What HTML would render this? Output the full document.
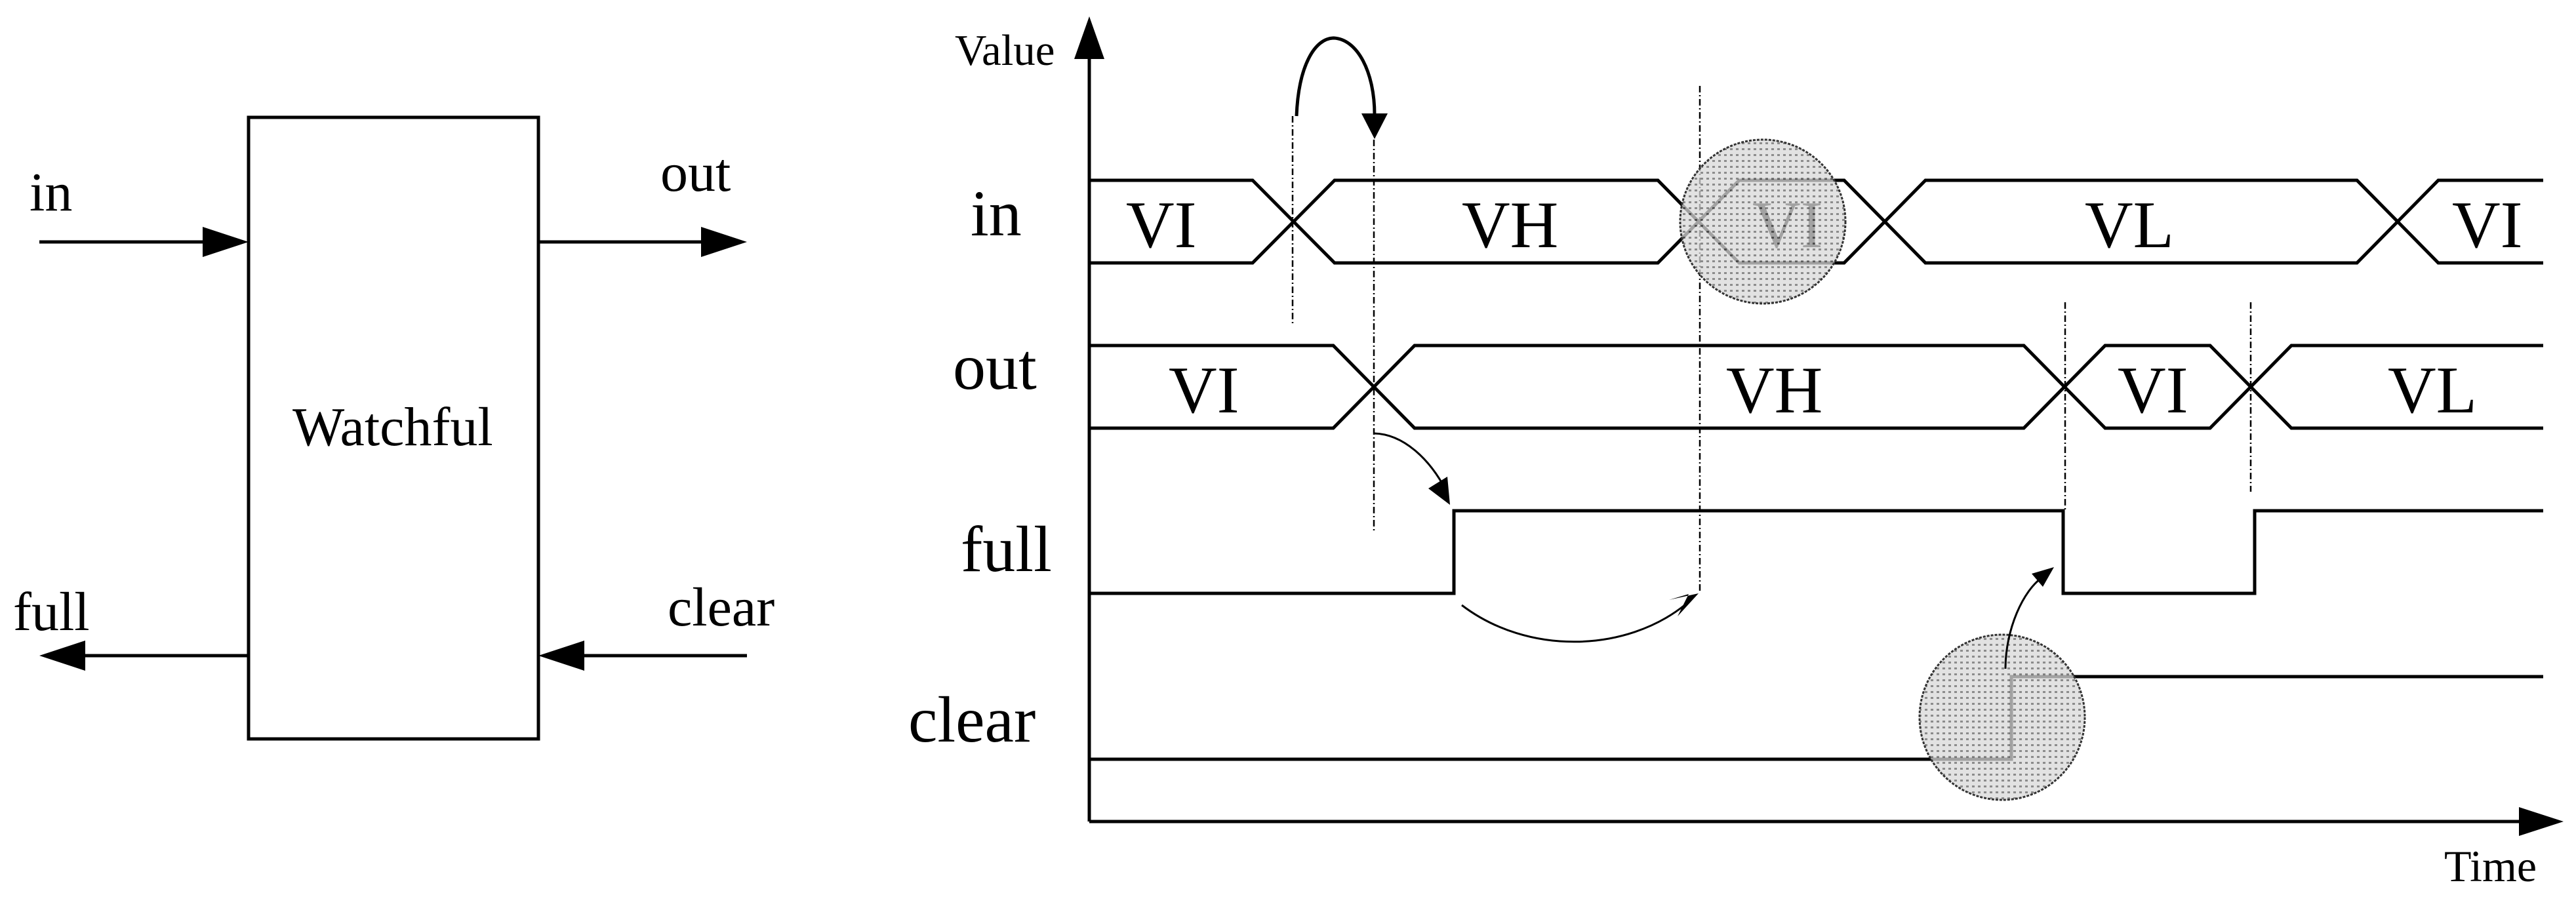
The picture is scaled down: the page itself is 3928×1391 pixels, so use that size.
<!DOCTYPE html>
<html><head><meta charset="utf-8"><style>html,body{margin:0;padding:0;background:#fff}svg{display:block}</style></head>
<body>
<svg width="3928" height="1391" viewBox="0 0 3928 1391" xmlns="http://www.w3.org/2000/svg" font-family="'Liberation Serif', serif" fill="#000">
<defs>
<pattern id="dots" width="9" height="9" patternUnits="userSpaceOnUse">
<rect width="9" height="9" fill="#d8d8d8"/>
<rect x="1" y="1" width="4" height="3" fill="#666"/>
</pattern>
</defs>
<g stroke="#000" stroke-width="5" fill="none">
<!-- block -->
<rect x="379" y="179" width="442" height="948"/>
<line x1="60" y1="369" x2="320" y2="369"/>
<line x1="821" y1="369" x2="1080" y2="369"/>
<line x1="120" y1="1000" x2="379" y2="1000"/>
<line x1="880" y1="1000" x2="1139" y2="1000"/>
</g>
<polygon points="379,369 309,346 309,392"/>
<polygon points="1139,369 1069,346 1069,392"/>
<polygon points="60,1000 130,977 130,1023"/>
<polygon points="821,1000 891,977 891,1023"/>
<g font-size="84">
<text x="45" y="321">in</text>
<text x="1007" y="291">out</text>
<text x="446" y="679">Watchful</text>
<text x="20" y="961">full</text>
<text x="1018" y="954">clear</text>
</g>
<!-- axes -->
<g stroke="#000" stroke-width="5" fill="none">
<line x1="1661" y1="80" x2="1661" y2="1253"/>
<line x1="1661" y1="1253" x2="3850" y2="1253"/>
</g>
<polygon points="1661,25 1638,90 1684,90"/>
<polygon points="3909,1253 3841,1231 3841,1275"/>
<text x="1456" y="99" font-size="67">Value</text>
<text x="3727" y="1344" font-size="68">Time</text>
<g font-size="100">
<text x="1480" y="359">in</text>
<text x="1453" y="593">out</text>
<text x="1465" y="871">full</text>
<text x="1385" y="1131">clear</text>
</g>
<!-- dashed lines -->
<g stroke="#000" stroke-width="2.5" stroke-dasharray="10,4,2,4" fill="none">
<line x1="1971" y1="177" x2="1971" y2="497"/>
<line x1="2095" y1="213" x2="2095" y2="809"/>
<line x1="2592" y1="131" x2="2592" y2="905"/>
<line x1="3149" y1="461" x2="3149" y2="781"/>
<line x1="3432" y1="461" x2="3432" y2="750"/>
</g>
<!-- signals -->
<g stroke="#000" stroke-width="5" fill="none" stroke-linejoin="miter">
<path d="M1661,275 H1910 L2035,401 H2528 L2652,275 H2812 L2936,401 H3594 L3718,275 H3878"/>
<path d="M1661,401 H1910 L2035,275 H2528 L2652,401 H2812 L2936,275 H3594 L3718,401 H3878"/>
<path d="M1661,527 H2033 L2157,653 H3086 L3210,527 H3370 L3494,653 H3878"/>
<path d="M1661,653 H2033 L2157,527 H3086 L3210,653 H3370 L3494,527 H3878"/>
<path d="M1661,905 H2217 V779 H3146 V905 H3438 V779 H3878"/>
<path d="M1661,1158 H3067 V1032 H3878"/>
</g>
<g font-size="102">
<text x="1717" y="377">VI</text>
<text x="2229" y="377">VH</text>
<text x="2672" y="377">VI</text>
<text x="3179" y="377">VL</text>
<text x="3739" y="377">VI</text>
<text x="1782" y="629">VI</text>
<text x="2632" y="629">VH</text>
<text x="3229" y="629">VI</text>
<text x="3641" y="629">VL</text>
</g>
<!-- highlight circles -->
<g fill="url(#dots)" fill-opacity="0.75" stroke="#333" stroke-width="3" stroke-dasharray="4,2">
<ellipse cx="2688" cy="338" rx="126" ry="125"/>
<ellipse cx="3053" cy="1094" rx="126" ry="126"/>
</g>
<!-- curved arrows -->
<g stroke="#000" fill="none">
<path d="M1977,177 C1980,100 2005,58 2034,58 C2070,60 2096,110 2096,175" stroke-width="5"/>
<path d="M2095,661 C2140,662 2180,700 2205,748" stroke-width="3"/>
<path d="M2229,923 C2330,1000 2480,995 2570,922" stroke-width="3"/>
<path d="M3058,1020 C3058,960 3085,900 3115,880" stroke-width="3"/>
</g>
<polygon points="2096,212 2076,173 2116,173"/>
<polygon points="2211,770 2178,745 2207,727"/>
<polygon points="2590,905 2558,940 2575,906 2545,915"/>
<polygon points="3132,865 3115,895 3098,875"/>
</svg>
</body></html>
